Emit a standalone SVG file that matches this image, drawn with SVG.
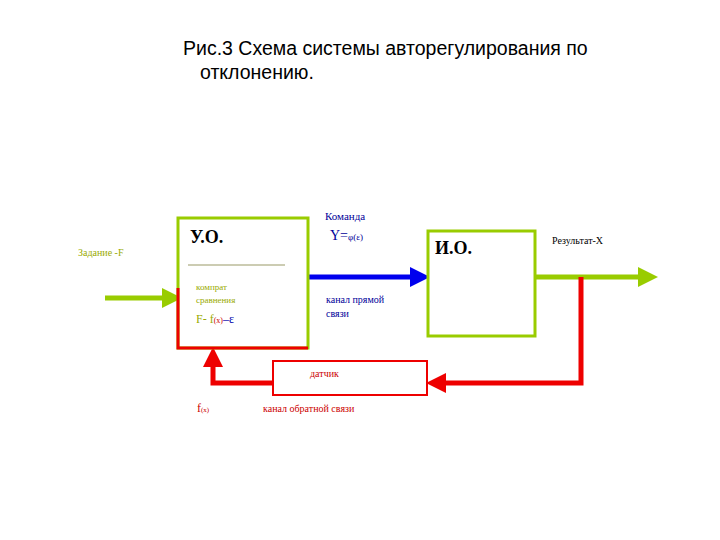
<svg xmlns="http://www.w3.org/2000/svg" width="720" height="540" viewBox="0 0 720 540">
<style>
.t{font-family:"Liberation Serif",serif}
.s{font-family:"Liberation Sans",sans-serif}
</style>
<defs>
<marker id="ag" markerWidth="4" markerHeight="4" refX="2" refY="2" orient="auto" markerUnits="strokeWidth"><path d="M0,0L4,2L0,4z" fill="#99cc00"/></marker>
<marker id="ab" markerWidth="4" markerHeight="4" refX="2" refY="2" orient="auto" markerUnits="strokeWidth"><path d="M0,0L4,2L0,4z" fill="#0000ee"/></marker>
<marker id="ar" markerWidth="4" markerHeight="4" refX="2" refY="2" orient="auto" markerUnits="strokeWidth"><path d="M0,0L4,2L0,4z" fill="#ee0000"/></marker>
</defs>
<text class="s" x="183" y="55" font-size="19.5">Рис.3 Схема системы авторегулирования по</text>
<text class="s" x="200" y="79" font-size="19.5">отклонению.</text>
<g id="connectors" fill="none" stroke-width="5">
<path d="M105 298H172" stroke="#99cc00" marker-end="url(#ag)"/>
<path d="M308 277H420" stroke="#0000ee" marker-end="url(#ab)"/>
<path d="M535 277H648" stroke="#99cc00" marker-end="url(#ag)"/>
<path d="M581 277V383H436" stroke="#ee0000" marker-end="url(#ar)"/>
<path d="M273 383H213V357" stroke="#ee0000" marker-end="url(#ar)"/>
</g>
<g id="uo">
<rect x="178" y="218" width="130" height="130" fill="#fff" stroke="#99cc00" stroke-width="3"/>
<path d="M178 288V348H308" fill="none" stroke="#ee0000" stroke-width="3"/>
<text class="t" x="190" y="243" font-size="18" font-weight="bold">У.О.</text>
<line x1="188" y1="265" x2="285" y2="265" stroke="#999966"/>
<text class="t" x="196" y="290" font-size="9" fill="#99aa00">компрат</text>
<text class="t" x="196" y="303" font-size="9" fill="#99aa00">сравнения</text>
<text class="t" x="196" y="323" font-size="12" fill="#99aa00">F- f<tspan font-size="8" fill="#cc0000">(x)</tspan><tspan fill="#0000aa">–ε</tspan></text>
</g>
<g id="io">
<rect x="428" y="231" width="107" height="105" fill="#fff" stroke="#99cc00" stroke-width="3"/>
<text class="t" x="435" y="254" font-size="18" font-weight="bold">И.О.</text>
</g>
<g id="sensor">
<rect x="273" y="361" width="154" height="34" fill="#fff" stroke="#ee0000" stroke-width="2"/>
<text class="t" x="310" y="377" font-size="10" fill="#cc0000">датчик</text>
</g>
<text class="t" x="78" y="256" font-size="10" fill="#99aa00">Задание -F</text>
<text class="t" x="325" y="220" font-size="11" fill="#000099">Команда</text>
<text class="t" x="330" y="240" font-size="14" fill="#000099">Y=<tspan font-size="9">φ(ε)</tspan></text>
<text class="t" x="326" y="303" font-size="10" fill="#000099">канал прямой</text>
<text class="t" x="326" y="317" font-size="10" fill="#000099">связи</text>
<text class="t" x="552" y="244" font-size="10">Результат-X</text>
<text class="t" x="197" y="412" font-size="12" fill="#cc0000">f<tspan font-size="7">(x)</tspan></text>
<text class="t" x="263" y="412" font-size="10" fill="#cc0000">канал обратной связи</text>
</svg>
